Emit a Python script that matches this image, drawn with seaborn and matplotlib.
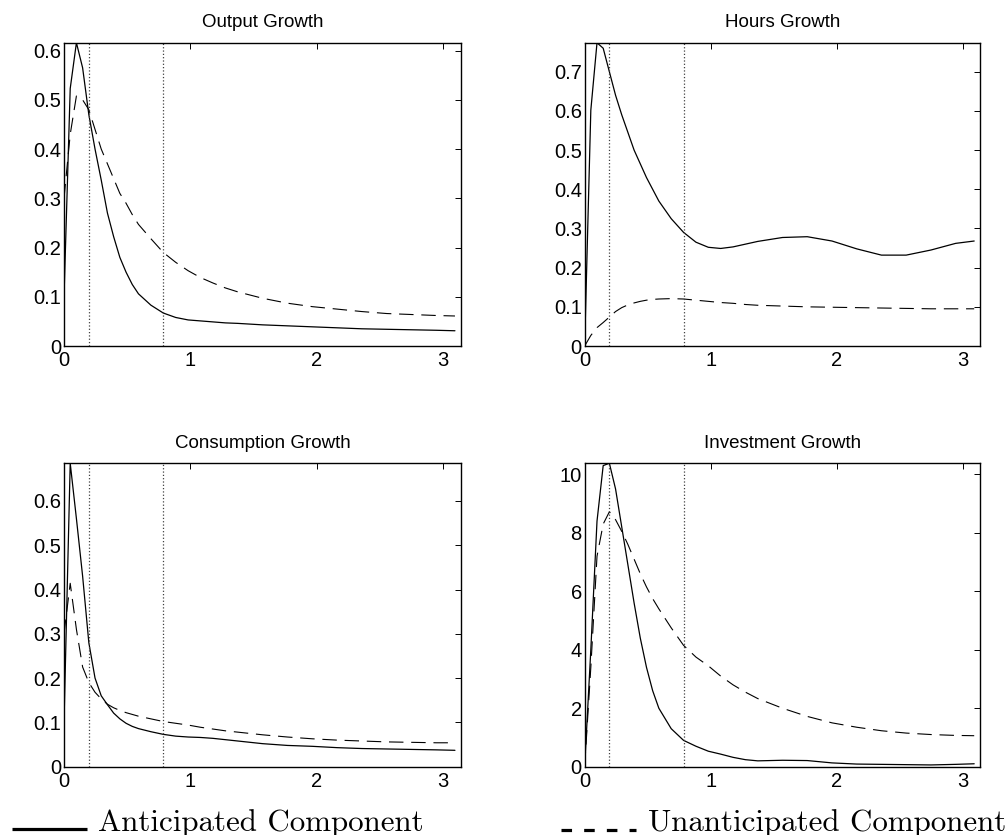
import numpy as np
import matplotlib
matplotlib.use("Agg")
import matplotlib.pyplot as plt
from matplotlib.lines import Line2D
from matplotlib.ticker import FuncFormatter, MultipleLocator
import seaborn as sns

# frequency grid index (frequency = k*pi/64)
k_index = [0, 1, 2, 3, 4, 5, 6, 7, 8, 9, 10, 11, 12, 14, 16, 18, 20, 22, 24, 26, 28,
           32, 36, 40, 44, 48, 52, 56, 60, 63]

titles = ["Output Growth", "Hours Growth", "Consumption Growth", "Investment Growth"]

output_anticipated = [0.10, 0.523, 0.616, 0.565, 0.47, 0.40, 0.337, 0.27, 0.222, 0.18,
                      0.15, 0.125, 0.106, 0.083, 0.067, 0.058, 0.053, 0.051, 0.049, 0.047,
                      0.046, 0.043, 0.041, 0.039, 0.037, 0.035, 0.034, 0.033, 0.032, 0.031]
output_unanticipated = [0.30, 0.43, 0.508, 0.50, 0.48, 0.44, 0.40, 0.37, 0.34, 0.31,
                        0.29, 0.267, 0.247, 0.218, 0.19, 0.17, 0.153, 0.139, 0.128, 0.118,
                        0.11, 0.097, 0.087, 0.08, 0.075, 0.07, 0.066, 0.064, 0.062, 0.061]

hours_anticipated = [0.0, 0.602, 0.774, 0.76, 0.70, 0.64, 0.59, 0.545, 0.50, 0.465,
                     0.43, 0.40, 0.37, 0.325, 0.29, 0.265, 0.252, 0.249, 0.253, 0.26,
                     0.267, 0.277, 0.279, 0.268, 0.248, 0.232, 0.232, 0.245, 0.262, 0.268]
hours_unanticipated = [0.0, 0.027, 0.047, 0.06, 0.074, 0.088, 0.098, 0.105, 0.11, 0.114,
                       0.117, 0.119, 0.12, 0.121, 0.12, 0.117, 0.114, 0.111, 0.109, 0.106,
                       0.104, 0.102, 0.10, 0.099, 0.098, 0.097, 0.096, 0.095, 0.095, 0.095]

consumption_anticipated = [0.10, 0.685, 0.56, 0.43, 0.28, 0.20, 0.16, 0.14, 0.121, 0.108,
                           0.098, 0.091, 0.086, 0.079, 0.073, 0.069, 0.067, 0.066, 0.064, 0.061,
                           0.058, 0.052, 0.048, 0.046, 0.043, 0.041, 0.040, 0.039, 0.038, 0.037]
consumption_unanticipated = [0.30, 0.414, 0.31, 0.225, 0.19, 0.168, 0.153, 0.141, 0.133, 0.127,
                             0.122, 0.118, 0.114, 0.108, 0.102, 0.098, 0.094, 0.089, 0.085, 0.081,
                             0.078, 0.072, 0.067, 0.063, 0.060, 0.058, 0.056, 0.055, 0.054, 0.054]

investment_anticipated = [0.0, 4.0, 8.4, 10.3, 10.38, 9.5, 8.2, 6.9, 5.6, 4.4,
                          3.4, 2.6, 2.0, 1.3, 0.9, 0.7, 0.53, 0.43, 0.32, 0.24,
                          0.20, 0.22, 0.21, 0.13, 0.09, 0.08, 0.07, 0.06, 0.08, 0.10]
investment_unanticipated = [0.0, 3.4, 7.2, 8.3, 8.72, 8.45, 8.05, 7.6, 7.1, 6.6,
                            6.15, 5.75, 5.4, 4.75, 4.15, 3.75, 3.45, 3.1, 2.8, 2.55,
                            2.33, 2.0, 1.72, 1.5, 1.35, 1.23, 1.15, 1.1, 1.07, 1.06]

y_steps = [0.1, 0.1, 0.1, 2]
band_lines = [np.pi / 16, np.pi / 4]
legend_labels = ["Anticipated Component", "Unanticipated Component"]

freq = np.array(k_index) * np.pi / 64
series = [(output_anticipated, output_unanticipated),
          (hours_anticipated, hours_unanticipated),
          (consumption_anticipated, consumption_unanticipated),
          (investment_anticipated, investment_unanticipated)]

sns.set_theme(style="white")
plt.rcParams["font.family"] = ["Liberation Sans", "DejaVu Sans"]

fig = plt.figure(figsize=(10.08, 8.35), dpi=100)
positions = [[0.0635, 0.5856, 0.394, 0.3632],
             [0.580, 0.5856, 0.3926, 0.3632],
             [0.0635, 0.0818, 0.394, 0.3634],
             [0.580, 0.0818, 0.3926, 0.3634]]

fmt = FuncFormatter(lambda v, p: "%g" % round(v, 6))
dash_style = (0, (13, 7))

for pos, title, (ant, unant), step in zip(positions, titles, series, y_steps):
    ax = fig.add_axes(pos)
    ant = np.array(ant)
    unant = np.array(unant)
    sns.lineplot(x=freq, y=unant, ax=ax, color="black", lw=0.8,
                 linestyle=dash_style, sort=False)
    sns.lineplot(x=freq, y=ant, ax=ax, color="black", lw=0.9, sort=False)
    for b in band_lines:
        ax.axvline(b, color="0.25", linestyle=":", lw=0.9)
    ax.set_xlim(0, np.pi)
    ax.set_ylim(0, max(ant.max(), unant.max()))
    ax.xaxis.set_major_locator(MultipleLocator(1))
    ax.yaxis.set_major_locator(MultipleLocator(step))
    ax.xaxis.set_major_formatter(fmt)
    ax.yaxis.set_major_formatter(fmt)
    ax.tick_params(direction="in", top=True, right=True, length=4.5, width=0.7,
                   labelsize=14.5, colors="black")
    ax.tick_params(axis="y", pad=2)
    ax.tick_params(axis="x", pad=3.5)
    for sp in ax.spines.values():
        sp.set_color("black")
        sp.set_linewidth(1.0)
    ax.set_title(title, fontsize=13.5, pad=11, color="black")
    ax.set_xlabel("")
    ax.set_ylabel("")

# bottom legend keys
fig.add_artist(Line2D([0.0119, 0.0863], [0.0072, 0.0072], color="black", lw=2.3,
                      transform=fig.transFigure, solid_capstyle="butt"))
fig.text(0.0972, 0.0048, legend_labels[0], family="cmr10", fontsize=22.3,
         va="baseline", ha="left", color="black")
fig.add_artist(Line2D([0.5565, 0.631], [0.006, 0.006], color="black", lw=2.3,
                      linestyle=(0, (3.3, 3.8)), dash_capstyle="butt",
                      transform=fig.transFigure))
fig.text(0.643, 0.0048, legend_labels[1], family="cmr10", fontsize=22.3,
         va="baseline", ha="left", color="black")

fig.savefig("out.png", dpi=100, facecolor="white")
